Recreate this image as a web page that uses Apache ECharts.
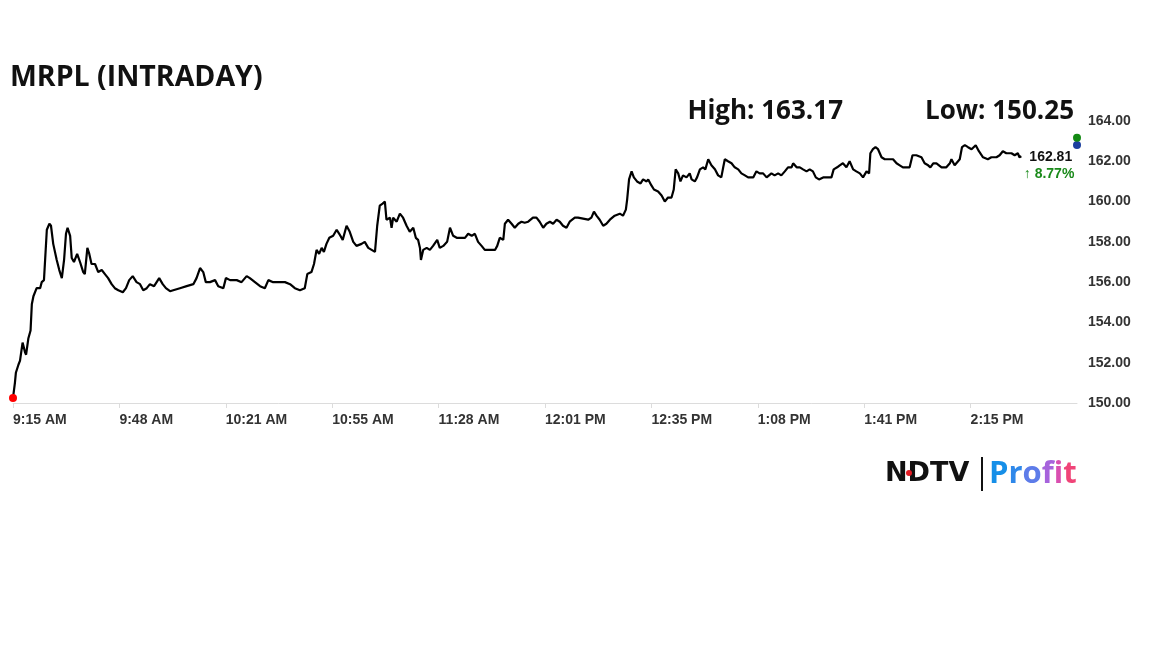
<!DOCTYPE html>
<html>
<head>
<meta charset="utf-8">
<script src="https://cdn.jsdelivr.net/npm/echarts@6/dist/echarts.min.js"></script>
<style>
html,body{margin:0;padding:0;background:#fff;}
#chart{width:1152px;height:648px;}
</style>
</head>
<body>
<div id="chart"></div>
<script>
// minutes after 9:15 AM
var minutes = [0,0.6,0.9,1.7,2.2,3.0,3.8,4.1,4.8,5.5,5.9,6.4,7.4,8.5,9.0,9.7,10.6,11.4,11.9,12.6,13.7,14.5,15.3,16.0,16.6,17.1,17.9,18.4,19.1,20.1,21.0,22.0,22.5,23.3,23.9,24.6,25.7,26.7,27.8,28.8,29.8,30.9,31.9,33.0,34.4,35.4,36.4,37.5,38.7,39.8,40.8,41.9,42.9,44.2,45.0,45.8,46.9,47.9,49.2,50.2,52.3,
54.4,56.5,57.5,58.6,59.6,60.4,61.7,63.3,64.3,65.9,66.7,68.0,70.1,71.6,73.2,74.2,75.8,77.4,78.9,80.0,81.5,83.6,85.2,86.8,88.3,89.9,91.4,92.2,93.5,94.3,95.1,95.9,96.7,97.4,98.2,99.1,100.3,101.4,102.2,103.3,104.5,105.5,106.6,107.6,109.2,110.2,111.3,111.8,113.4,
114.1,114.9,115.8,116.5,117.0,118.1,118.6,119.1,120.2,121.2,122.2,123.3,124.3,125.4,126.2,126.9,127.5,127.8,128.5,129.6,130.6,131.6,132.9,133.7,134.8,136.0,136.9,137.9,139.0,140.0,141.6,142.6,143.7,144.7,145.7,146.8,147.8,149.4,151.0,151.7,152.5,153.6,154.1,155.1,156.2,157.2,158.3,159.3,160.3,161.4,162.9,164.0,165.0,166.1,167.1,168.2,169.2,170.3,171.3,
172.3,173.4,174.4,176.0,177.0,178.6,180.2,181.2,182.0,182.8,183.8,184.9,185.9,187.0,188.5,190.1,191.1,192.0,192.4,193.0,193.8,194.5,195.5,196.6,197.4,198.5,199.0,200.0,200.8,202.1,203.2,204.2,205.2,206.3,207.0,207.6,208.4,209.1,209.9,211.0,212.0,212.6,213.6,214.3,215.2,216.2,216.9,217.8,218.8,219.9,220.9,221.9,222.5,223.0,224.0,225.1,226.1,227.2,228.2,229.3,230.3,
231.9,232.9,233.9,235.0,236.1,237.6,238.6,239.7,240.7,241.8,242.8,243.9,244.4,245.5,246.5,247.5,248.6,249.6,250.6,251.5,252.5,253.8,255.0,256.4,257.1,258.2,259.0,260.0,261.1,262.1,263.2,264.2,265.3,266.3,267.4,268.2,268.6,269.4,270.2,271.0,272.1,273.1,274.7,275.7,276.8,277.8,278.8,279.9,280.9,281.8,283.0,284.6,285.6,286.7,287.4,288.3,289.3,290.9,292.4,293.5,294.0,295.0,296.6,297.3,298.2,299.2,300.3,301.6,302.6,303.9,305.4,306.5,308.1,309.1,310.1,311.2,312.8,313.8,314.8,315.3,315.9];
var prices = [150.25,151.0,151.5,151.9,152.1,153.0,152.5,152.4,153.2,153.6,154.9,155.3,155.7,155.7,156.0,156.1,158.6,158.9,158.8,157.9,157.1,156.6,156.2,157.1,158.4,158.7,158.3,157.2,157.0,157.4,157.0,156.5,156.4,157.7,157.4,156.9,156.9,156.5,156.6,156.4,156.2,155.9,155.7,155.6,155.5,155.7,156.1,156.3,156.0,155.9,155.6,155.7,155.9,155.8,156.0,156.2,155.9,155.7,155.55,155.6,155.7,
155.8,155.9,156.2,156.7,156.5,156.0,156.0,156.1,155.8,155.7,156.2,156.1,156.1,156.0,156.3,156.2,156.0,155.8,155.7,156.1,156.0,156.0,156.0,155.9,155.7,155.6,155.7,156.4,156.5,156.9,157.6,157.4,157.7,157.5,157.9,158.2,158.3,158.6,158.4,158.1,158.8,158.5,158.0,157.8,157.9,158.0,157.7,157.7,157.5,
158.8,159.8,159.9,160.0,159.1,159.2,158.7,159.2,159.0,159.4,159.2,158.8,158.5,158.7,158.2,158.1,157.7,157.1,157.6,157.7,157.6,157.8,158.1,157.7,157.8,158.0,158.7,158.3,158.2,158.2,158.2,158.4,158.3,158.4,158.0,157.8,157.6,157.6,157.6,157.8,158.2,158.1,158.9,159.1,158.9,158.7,158.9,159.0,158.95,159.0,159.2,159.2,159.0,158.7,158.9,159.0,158.9,159.1,159.0,
158.8,158.7,159.0,159.2,159.2,159.15,159.1,159.2,159.5,159.3,159.1,158.8,158.9,159.1,159.3,159.4,159.3,159.6,160.1,161.1,161.5,161.2,161.0,160.9,161.1,161.0,161.1,160.8,160.6,160.5,160.3,160.0,160.2,160.2,160.6,161.6,161.4,161.0,161.3,161.2,161.4,161.1,161.0,161.2,161.6,161.7,161.6,162.1,161.8,161.6,161.3,161.2,161.7,162.1,162.0,161.9,161.7,161.6,161.4,161.3,161.2,
161.2,161.5,161.4,161.4,161.2,161.4,161.3,161.4,161.3,161.5,161.7,161.7,161.9,161.7,161.7,161.6,161.5,161.6,161.5,161.2,161.1,161.2,161.2,161.2,161.6,161.7,161.8,161.9,161.7,162.0,161.6,161.5,161.4,161.2,161.5,161.4,162.4,162.6,162.7,162.6,162.2,162.1,162.1,162.1,161.9,161.8,161.7,161.7,161.7,162.3,162.3,162.2,161.9,161.8,161.7,161.9,161.9,161.7,161.7,161.9,162.1,161.8,162.1,162.7,162.8,162.7,162.6,162.8,162.5,162.2,162.1,162.2,162.2,162.3,162.5,162.4,162.4,162.3,162.4,162.2,162.25];

var yTicks = [150, 164, 2];
var dayHigh = 163.17, dayLow = 150.25, lastPrice = 162.81, changePct = 8.77;
var titleText = 'MRPL (INTRADAY)';

var axisMax = 1000 / 3, axisStep = 100 / 3;

function timeLabel(v) {
  var m = Math.floor(v + 1e-6) + 15;
  var h = 9 + Math.floor(m / 60);
  var mm = m % 60;
  var ampm = h >= 12 ? 'PM' : 'AM';
  var h12 = h > 12 ? h - 12 : h;
  return h12 + ':' + (mm < 10 ? '0' + mm : mm) + ' ' + ampm;
}

var seriesData = minutes.map(function (m, i) { return [m, prices[i]]; });

var chart = echarts.init(document.getElementById('chart'));
var lblFont = 'Arial, "Liberation Sans", sans-serif';
chart.setOption({
  animation: false,
  backgroundColor: '#fff',
  grid: { left: 13, right: 75, top: 121, bottom: 245, containLabel: false },
  xAxis: {
    type: 'value', min: 0, max: axisMax, interval: axisStep,
    splitLine: { show: false },
    axisLine: { lineStyle: { color: '#dcdcdc', width: 1 } },
    axisTick: { show: true, length: 5, lineStyle: { color: '#dcdcdc' } },
    axisLabel: {
      align: 'left', margin: 10, fontSize: 14, fontWeight: 'bold', color: '#333',
      fontFamily: lblFont, showMaxLabel: false,
      formatter: function (v) { return v > axisMax - 1 ? '' : timeLabel(v); }
    }
  },
  yAxis: {
    type: 'value', position: 'right', min: yTicks[0], max: yTicks[1], interval: yTicks[2],
    splitLine: { show: false }, axisLine: { show: false }, axisTick: { show: false },
    axisLabel: {
      margin: 11, fontSize: 14, fontWeight: 'bold', color: '#333', fontFamily: lblFont,
      formatter: function (v) { return v.toFixed(2); }
    }
  },
  series: [{
    type: 'line', data: seriesData, showSymbol: false, smooth: false,
    lineStyle: { color: '#000', width: 2.2 },
    markPoint: {
      symbol: 'circle', symbolSize: 8, label: { show: false },
      data: [
        { coord: [0, dayLow], itemStyle: { color: '#f00' } },
        { coord: [axisMax, lastPrice], itemStyle: { color: '#1c3f9e' } },
        { coord: [axisMax, dayHigh], itemStyle: { color: '#138a13' } }
      ]
    }
  }]
});

var endPt = chart.convertToPixel({ seriesIndex: 0 }, seriesData[seriesData.length - 1]);
var profitLetters = ['P', 'r', 'o', 'f', 'i', 't'];
var profitColors = ['#168fe8', '#2f88ea', '#5d7ce9', '#a663dc', '#d94fb0', '#f04478'];
var profitRich = {};
var profitText = '';
profitLetters.forEach(function (ch, i) {
  profitRich['c' + i] = { fill: profitColors[i], font: 'bold 31px "Open Sans", sans-serif' };
  profitText += '{c' + i + '|' + ch + '}';
});
chart.setOption({
  graphic: [
    { type: 'text', left: 10, top: 63, style: { text: titleText, font: 'bold 28.5px "Open Sans", sans-serif', fill: '#111' } },
    { type: 'text', x: 843, y: 112, style: { text: 'High: ' + dayHigh.toFixed(2), font: 'bold 26px "Open Sans", sans-serif', fill: '#111', align: 'right', verticalAlign: 'middle' } },
    { type: 'text', x: 1074, y: 112, style: { text: 'Low: ' + dayLow.toFixed(2), font: 'bold 26px "Open Sans", sans-serif', fill: '#111', align: 'right', verticalAlign: 'middle' } },
    { type: 'text', x: endPt[0] + 8, y: endPt[1] + 1, style: { text: lastPrice.toFixed(2), font: 'bold 14px Arial, "Liberation Sans", sans-serif', fill: '#111', align: 'left', verticalAlign: 'middle' } },
    { type: 'text', x: endPt[0] + 53, y: endPt[1] + 18, style: { text: '\u2191 ' + changePct.toFixed(2) + '%', font: 'bold 14px Arial, "Liberation Sans", sans-serif', fill: '#1a8a1a', align: 'right', verticalAlign: 'middle' } },
    // logo
    { type: 'text', x: 885, y: 474, style: { text: 'NDTV', font: 'bold 27px "DejaVu Sans", sans-serif', fill: '#111', align: 'left', verticalAlign: 'middle' } },
    { type: 'circle', shape: { cx: 909, cy: 473, r: 3 }, style: { fill: '#e31b23' } },
    { type: 'line', shape: { x1: 982, y1: 457, x2: 982, y2: 491 }, style: { stroke: '#111', lineWidth: 2 } },
    { type: 'text', x: 989, y: 474, style: {
        text: profitText, rich: profitRich, align: 'left', verticalAlign: 'middle'
      } }
  ]
});
</script>
</body>
</html>
